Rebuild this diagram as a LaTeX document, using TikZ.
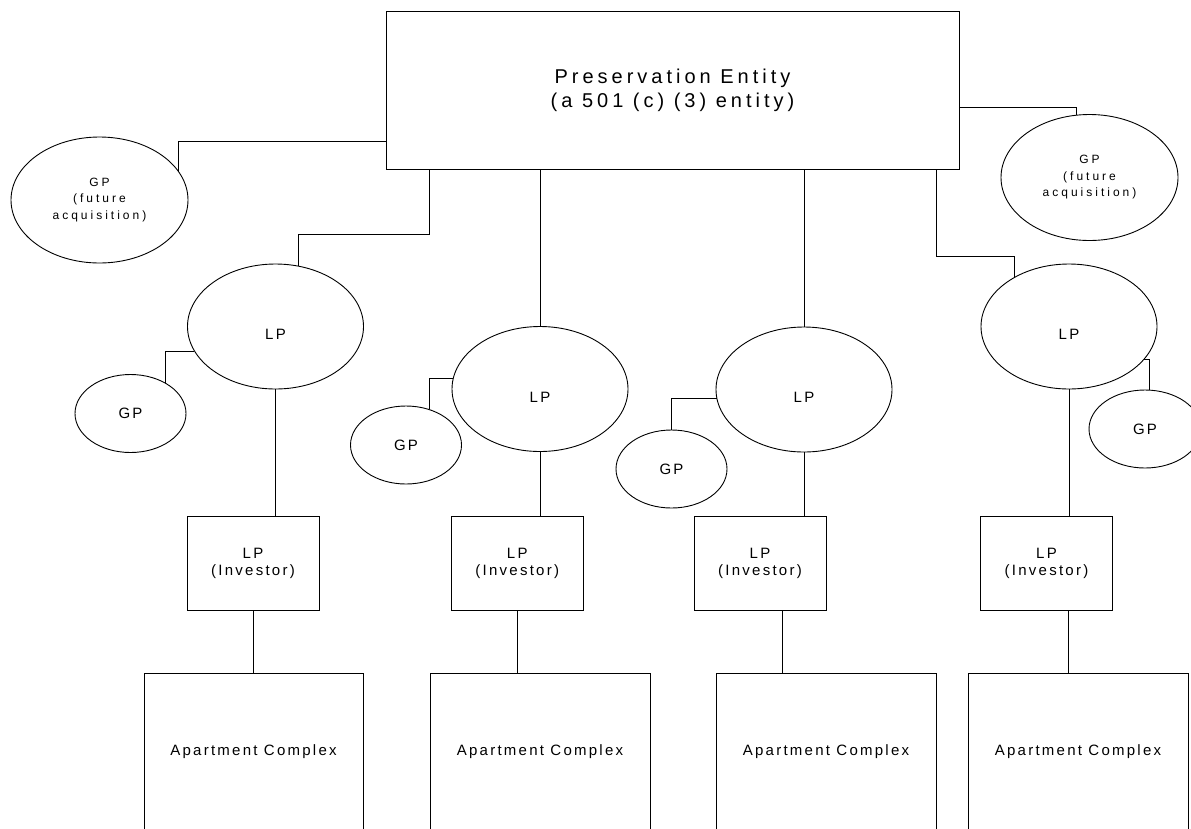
\documentclass[tikz,border=0pt]{standalone}
\usepackage{fontspec}
\usetikzlibrary{shapes.geometric}

\newfontfamily\chartfont[LetterSpace=15]{Liberation Sans}
\newfontfamily\headfont[LetterSpace=20]{Liberation Sans}
\newfontfamily\notefont[LetterSpace=25]{Liberation Sans}

\begin{document}
\begin{tikzpicture}[x=1pt,y=-1pt,line width=0.9pt,
    box/.style={draw,rectangle,inner sep=0pt,align=center,font={\chartfont\fontsize{15}{17}\selectfont}},
    oval/.style={draw,ellipse,inner sep=0pt,align=center,font={\chartfont\fontsize{15}{17}\selectfont}},
    lpoval/.style={oval,minimum width=176pt,minimum height=125pt,text height=26pt,text depth=0pt},
    gpoval/.style={oval,minimum width=111pt,minimum height=78pt},
    futureoval/.style={oval,minimum width=177pt,minimum height=126pt,font={\notefont\fontsize{12}{16.5}\selectfont}},
    investor/.style={box,minimum width=132pt,minimum height=94pt},
    complex/.style={box,minimum width=220pt,minimum height=158pt}]

    \useasboundingbox (0,0) rectangle (1191,828);
    \clip (0,0) rectangle (1191,828);

    \node[box,minimum width=573pt,minimum height=158pt,font={\headfont\fontsize{20}{24}\selectfont}] (entity) at (672.5,90) {Preservation Entity\\(a 501 (c) (3) entity)};

    \node[futureoval] (gpleft) at (99.5,200) {GP\\(future\\acquisition)};
    \node[futureoval] (gpright) at (1089.5,177.5) {GP\\(future\\acquisition)};

    \node[lpoval] (lp1) at (275.5,326.5) {LP};
    \node[lpoval] (lp2) at (540,389) {LP};
    \node[lpoval] (lp3) at (804,389.5) {LP};
    \node[lpoval] (lp4) at (1069,326.5) {LP};

    \node[gpoval] (gp1) at (130.5,413.5) {GP};
    \node[gpoval] (gp2) at (406,445) {GP};
    \node[gpoval] (gp3) at (671.5,469) {GP};
    \node[gpoval,minimum width=112pt] (gp4) at (1145,429) {GP};

    \node[investor] (inv1) at (253,563) {LP\\(Investor)};
    \node[investor] (inv2) at (517.25,563) {LP\\(Investor)};
    \node[investor] (inv3) at (760,563) {LP\\(Investor)};
    \node[investor] (inv4) at (1046.5,563) {LP\\(Investor)};

    \node[complex,minimum width=219pt] (apt1) at (253.5,752) {Apartment Complex};
    \node[complex] (apt2) at (540,752) {Apartment Complex};
    \node[complex] (apt3) at (826,752) {Apartment Complex};
    \node[complex] (apt4) at (1078,752) {Apartment Complex};

    \draw[] ([yshift=-51pt]entity.west) -| (gpleft.20);
    \draw[] ([yshift=-17pt]entity.east) -| (gpright.102);
    \draw[] ([xshift=44pt]entity.south west) -- ++(0,65) -| (lp1.69);
    \draw[] (lp2.north) -- (lp2.north |- entity.south);
    \draw[] (lp3.north) -- (lp3.north |- entity.south);
    \draw[] ([xshift=-23pt]entity.south east) -- ++(0,87) -| (lp4.138);

    \draw[] (lp1.197) -| (gp1.41);
    \draw[] (lp2.173) -| (gp2.57);
    \draw[] (lp3.186) -| (gp3.north);
    \draw[] (lp4.336) -| ([xshift=4pt]gp4.north);

    \draw[] (lp1.south) -- (lp1.south |- inv1.north);
    \draw[] (lp2.south) -- (lp2.south |- inv2.north);
    \draw[] (lp3.south) -- (lp3.south |- inv3.north);
    \draw[] (lp4.south) -- (lp4.south |- inv4.north);

    \draw[] (inv1.south) -- (inv1.south |- apt1.north);
    \draw[] (inv2.south) -- (inv2.south |- apt2.north);
    \draw[] ([xshift=22pt]inv3.south) -- ([xshift=22pt]inv3.south |- apt3.north);
    \draw[] ([xshift=21.5pt]inv4.south) -- ([xshift=21.5pt]inv4.south |- apt4.north);

\end{tikzpicture}
\end{document}
